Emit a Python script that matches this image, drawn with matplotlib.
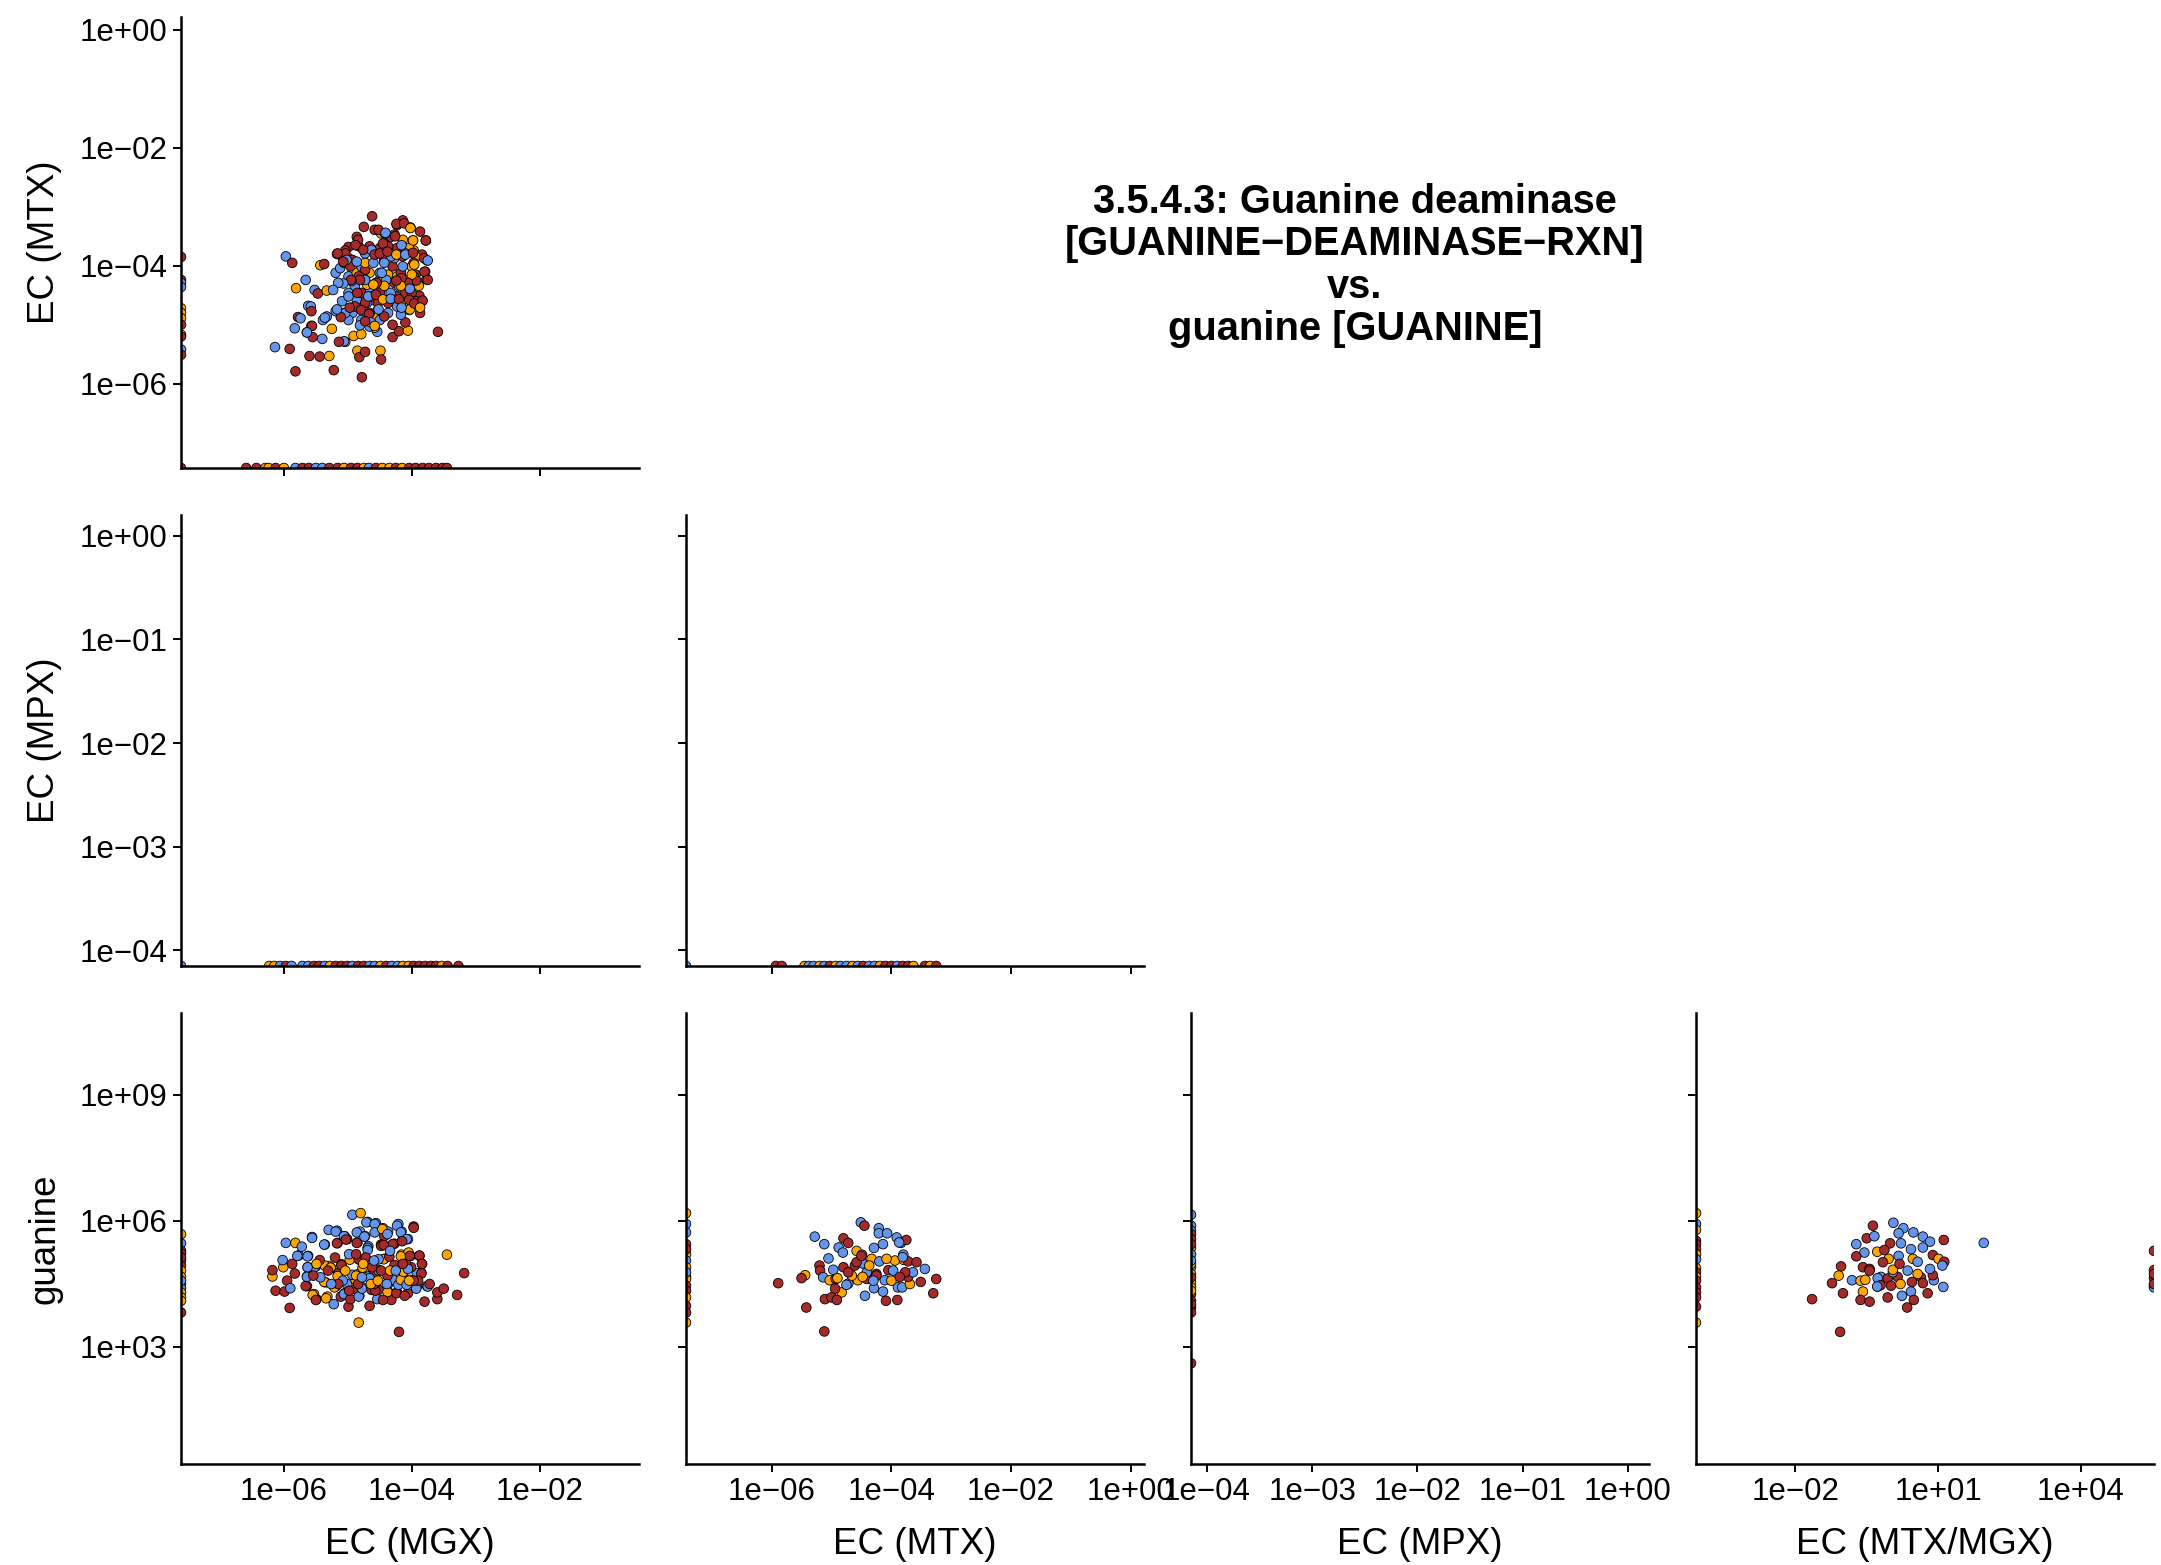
import numpy as np
import matplotlib
matplotlib.use("Agg")
import matplotlib.pyplot as plt
from matplotlib.ticker import FixedLocator, FuncFormatter, NullLocator, NullFormatter

plt.rcParams['font.family'] = ['Liberation Sans', 'DejaVu Sans']

# ---------------------------------------------------------------------------
# DATA  (all values are log10; NEG = log10(0) -> drawn on the panel edge,
#        POS = log10(inf) -> drawn on the right edge, as ggplot does)
# groups: B = blue, O = orange, R = red
# ---------------------------------------------------------------------------
NEG = -np.inf
POS = np.inf
GROUP_COLORS = {'B': '#6495ED', 'O': '#FFA500', 'R': '#A52A2A'}

# ---- EC (MTX) vs EC (MGX) ----
mtx_mgx_grp = ("BRBOORBRBB" "RRRBRRBBBR" "RBBBRBBRRO" "RRROOBROOO" "RRORBORROR"
               "RROBRRORRR" "BRORROORRR" "RRRRROBR"
               + "BRO" * 19 + "BR" * 13 + "RRRRR")
mtx_mgx_x = [-5.97, -5.87, -5.66, -5.81, -5.43, -5.37, -5.52, -5.47, -5.19, -5.09,
             -5.17, -4.99, -5.04, -6.14, -5.91, -5.78, -5.74, -5.83, -5.64, -5.57,
             -5.55, -5.40, -5.62, -5.58, -5.57, -5.39, -5.33, -5.60, -5.44, -5.29,
             -5.82, -5.22, -4.78, -5.25, -5.04, -5.06, -5.14, -4.91, -4.79, -4.85,
             -4.82, -4.73, -4.49, -4.48, -4.54, -4.58, -4.30, -4.20, -4.06, -4.10,
             -3.59, -3.87, -4.04, -4.17, -3.84, -3.88, -3.90, -3.77, -3.79, -3.94,
             -3.76, -3.84, -3.97, -3.87, -3.78, -3.98, -4.02, -4.14, -4.23, -4.33,
             -4.27, -4.62, -4.75, -4.58, -4.86, -4.48, -4.42, -4.43,
             -5.12, -5.06, -4.99, -4.99, -4.93, -4.86, -4.89, -4.83, -4.66,
             -4.79, -4.66, -4.50, -4.73, -4.53, -4.37, -4.66, -4.43, -4.23,
             -4.60, -4.30, -4.10, -4.53, -4.17, -4.00, -4.70, -4.27, -3.94,
             -4.86, -4.43, -4.04, -4.99, -4.56, -4.14, -5.09, -4.73, -4.53,
             -5.19, -4.83, -4.70, -4.93, -4.96, -4.60, -4.79, -4.79, -4.40,
             -4.66, -4.63, -4.27, -4.50, -4.50, -4.17, -4.37, -4.37, -4.73,
             -4.23, -4.23, -4.10,
             -4.33, -4.10, -4.40, -4.00, -4.50, -3.94, -4.60, -4.04, -4.73, -4.14,
             -4.27, -3.97, -4.17, -4.14, -4.14, -4.23, -4.04, -4.37, -4.20, -4.50,
             -3.97, -4.73, -4.43, -4.89, -4.99, -5.06,
             -4.79, -4.66, -4.53, -4.43, -4.30]
mtx_mgx_y = [-3.84, -3.95, -4.24, -4.38, -3.99, -3.97, -4.41, -4.47, -4.12, -3.84,
             -3.80, -3.68, -3.74, -5.38, -5.41, -4.87, -4.89, -5.06, -5.13, -5.02,
             -5.21, -5.24, -4.68, -4.69, -4.77, -4.92, -4.86, -5.53, -5.54, -5.53,
             -5.79, -5.77, -5.89, -5.07, -5.29, -5.28, -5.29, -5.19, -5.16, -5.44,
             -5.55, -5.46, -5.44, -5.59, -5.12, -5.05, -5.21, -5.11, -5.10, -4.96,
             -5.12, -4.80, -4.75, -4.83, -4.60, -4.51, -4.32, -4.23, -4.10, -4.15,
             -3.91, -3.81, -3.74, -3.42, -3.57, -3.57, -3.35, -3.23, -3.31, -3.51,
             -3.47, -3.16, -3.34, -3.39, -3.51, -3.45, -3.45, -3.62,
             -4.04, -3.95, -3.87, -4.18, -3.90, -4.12, -4.35, -3.67, -4.12,
             -4.01, -3.67, -4.24, -4.24, -3.79, -4.15, -4.41, -3.90, -4.18,
             -4.58, -4.01, -4.24, -4.75, -4.12, -4.01, -4.63, -4.29, -3.84,
             -4.58, -4.35, -3.70, -4.46, -4.29, -3.56, -4.60, -4.07, -4.41,
             -4.77, -4.18, -4.32, -4.80, -4.01, -4.86, -4.92, -4.46, -4.58,
             -5.03, -4.52, -4.60, -4.92, -4.46, -4.63, -4.80, -4.63, -3.95,
             -4.69, -4.52, -3.79,
             -4.46, -4.46, -4.24, -4.46, -4.12, -4.60, -3.95, -4.58, -3.79, -4.32,
             -3.87, -3.95, -3.67, -3.84, -4.01, -3.70, -4.35, -3.67, -4.35, -3.70,
             -4.18, -4.63, -3.95, -4.69, -4.92, -4.80,
             -4.75, -4.80, -4.63, -4.86, -5.00]
# dense core of the same panel
mtx_mgx_core_grp = ("RRROBRORBR" "RRBRRRBRBR" "RBROBRORBR" "RORORRBORO"
                    "BROBRBRBBO" "BBRBROBROB" "RROBRBOBRB" "RRBBRB")
mtx_mgx_core_x = [-4.52, -4.24, -4.12, -4.02, -4.41, -4.26, -3.98, -3.78, -4.16, -4.45,
                  -4.84, -4.88, -4.63, -4.76, -5.04, -5.16, -5.02, -5.07, -4.86, -4.58,
                  -4.50, -4.32, -4.38, -4.24, -4.10, -3.98, -3.96, -3.81, -3.75, -3.80,
                  -3.75, -3.89, -3.93, -4.00, -4.06, -4.16, -4.03, -4.17, -4.24, -4.43,
                  -4.47, -4.55, -4.60, -4.73, -4.81, -4.94, -4.95, -5.07, -5.15, -5.33,
                  -5.23, -4.99, -4.85, -4.68, -4.56, -4.45, -4.33, -4.20, -4.03, -4.16,
                  -3.96, -3.83, -3.87, -4.52, -4.67, -4.64, -4.58, -4.81, -4.73, -5.04,
                  -5.11, -4.97, -5.17, -5.36, -5.56, -5.64]
mtx_mgx_core_y = [-3.39, -3.29, -3.28, -3.36, -3.44, -3.50, -3.57, -3.57, -3.65, -3.62,
                  -3.56, -3.65, -3.73, -3.73, -3.79, -3.79, -3.90, -3.93, -3.93, -3.81,
                  -3.79, -3.84, -3.76, -3.81, -3.81, -3.78, -3.98, -3.87, -3.91, -4.10,
                  -4.24, -4.34, -4.25, -4.15, -4.29, -4.21, -4.39, -4.34, -4.25, -4.34,
                  -4.12, -4.29, -4.32, -4.24, -4.24, -4.26, -4.24, -4.30, -4.29, -4.42,
                  -4.41, -4.52, -4.46, -4.52, -4.49, -4.57, -4.56, -4.57, -4.74, -4.71,
                  -4.64, -4.59, -4.71, -4.74, -4.82, -4.96, -5.02, -5.01, -4.94, -4.80,
                  -4.87, -4.71, -4.74, -4.88, -5.02, -5.13]
# samples with MGX = 0 (left edge) and MTX = 0 (bottom edge)
mtx_mgx_left_grp = "RRBBOOORORBRR"
mtx_mgx_left_y = [-3.85, -4.24, -4.29, -4.36, -4.72, -4.80, -4.89, -5.00, -5.17, -5.20,
                  -5.42, -5.51, NEG]
mtx_mgx_bottom_grp = "RROOROBRRB" "BRRORROBRO" "ORORRRRRRR"
mtx_mgx_bottom_x = [-6.59, -6.43, -6.29, -6.24, -6.13, -6.00, -5.82, -5.71, -5.61, -5.50,
                    -5.40, -5.29, -5.16, -5.06, -4.95, -4.85, -4.75, -4.67, -4.56, -4.46,
                    -4.35, -4.25, -4.15, -4.04, -3.94, -3.83, -3.73, -3.62, -3.52, -3.45]

# ---- EC (MPX) vs EC (MGX): MPX is zero everywhere ----
mpx_mgx_grp = "OOBRBBBRRB" "ORRRBRRBBO" "RBBOORRRRR" "ORR" "B"
mpx_mgx_x = [-6.23, -6.15, -6.06, -5.97, -5.88, -5.71, -5.62, -5.53, -5.45, -5.36,
             -5.28, -5.19, -5.10, -5.01, -4.93, -4.84, -4.75, -4.66, -4.58, -4.49,
             -4.40, -4.31, -4.22, -4.14, -4.05, -3.97, -3.88, -3.79, -3.70, -3.62,
             -3.53, -3.44, -3.27, NEG]

# ---- EC (MPX) vs EC (MTX): MPX is zero everywhere ----
mpx_mtx_grp = "RROBBOBROB" "BOBRBBORRB" "RROROR" "B"
mpx_mtx_x = [-5.93, -5.83, -5.45, -5.38, -5.30, -5.20, -5.12, -5.03, -4.93, -4.85,
             -4.75, -4.65, -4.56, -4.47, -4.37, -4.28, -4.19, -4.10, -4.00, -3.90,
             -3.81, -3.72, -3.63, -3.44, -3.35, -3.25, NEG]

# ---- guanine vs EC (MGX) ----
gua_mgx_grp = ("BOBOBBOROB" "RRRRBRRBBO" "ROBRORRRRR" "RRRORBRBRR" "RRBBBOROBB"
               "BOBBBBBBRR" "RRRBBOOORB" "BBRORROBOO" "BORBRBBRBR" "ORRBOORBRR"
               "ORBRBRBRRB" "ROBORBRORB" "ROBROBRBOB" "RBROR"
               "OBRROROOBBOOORRB")
gua_mgx_x = [-4.93, -4.80, -5.97, -5.82, -5.56, -5.72, -6.18, -6.18, -6.01, -6.02,
             -6.13, -5.99, -5.91, -5.95, -5.90, -5.83, -5.87, -5.79, -5.63, -5.55,
             -5.50, -5.34, -5.22, -4.99, -4.83, -4.20, -4.66, -3.80, -3.60, -3.60,
             -3.50, -3.29, -3.18, -3.45, -3.97, -3.75, -3.72, -3.93, -3.88, -3.84,
             -3.85, -3.90, -4.23, -4.17, -4.08, -4.05, -4.15, -4.17, -4.71, -4.58,
             -4.58, -4.46, -4.38, -5.30, -5.19, -5.06, -4.86, -4.74, -5.17, -5.03,
             -4.86, -4.48, -4.30, -5.37, -4.69, -4.97, -5.36, -5.27, -5.44, -5.52,
             -5.63, -5.64, -5.66, -5.37, -5.10, -4.83, -4.77, -4.93, -4.87, -5.16,
             -5.08, -5.21, -5.15, -5.06, -4.96, -4.83, -4.78, -4.57, -4.66, -4.59,
             -4.38, -4.45, -4.24, -4.21, -4.17, -4.13, -4.06, -4.08, -4.38, -4.27,
             -4.44, -4.44, -4.52, -4.62, -4.69, -4.72, -4.52, -4.35, -4.03, -4.06,
             -4.84, -4.64, -4.78, -5.04, -5.31, -5.43, -5.54, -5.49, -5.20, -4.98,
             -4.87, -4.76, -4.59, -4.48, -4.34, -4.25, -4.14, -4.34, -4.53, -4.39,
             -4.98, -5.26, -3.97, -4.04, -4.11,
             NEG, NEG, NEG, NEG, NEG, NEG, NEG, NEG, NEG, NEG,
             NEG, NEG, NEG, NEG, NEG, NEG]
gua_mgx_y = [6.14, 6.18, 5.47, 5.47, 5.59, 5.38, 4.67, 4.82, 4.89, 5.06,
             4.33, 4.31, 3.92, 4.57, 4.39, 4.74, 4.97, 5.16, 5.15, 4.23,
             4.11, 4.15, 4.01, 3.95, 3.57, 3.35, 3.97, 4.07, 4.13, 4.29,
             4.38, 4.23, 4.75, 5.19, 5.83, 4.43, 4.49, 4.38, 5.17, 4.97,
             4.74, 4.57, 5.88, 5.72, 5.56, 5.24, 5.51, 5.15, 5.96, 5.92,
             5.72, 5.80, 5.68, 5.78, 5.74, 5.63, 5.72, 5.62, 5.46, 5.55,
             5.47, 5.40, 5.44, 5.43, 5.35, 5.07, 4.93, 4.88, 5.06, 4.89,
             4.89, 4.66, 4.44, 4.54, 4.94, 5.08, 4.88, 4.71, 4.69, 4.68,
             4.57, 4.41, 4.49, 4.25, 4.13, 4.19, 4.38, 4.33, 4.63, 4.49,
             4.30, 4.11, 4.27, 4.47, 4.59, 4.78, 4.27, 4.47, 4.69, 4.94,
             5.08, 5.42, 4.81, 4.89, 5.30, 5.12, 5.08, 5.14, 5.16, 4.85,
             4.49, 4.49, 4.65, 4.81, 4.81, 4.65, 4.69, 4.97, 5.12, 5.20,
             5.20, 4.97, 5.05, 4.81, 4.81, 4.81, 4.97, 5.28, 4.57, 4.49,
             4.33, 4.49, 4.57, 4.57, 4.21,
             5.68, 5.46, 5.28, 5.22, 5.05, 4.93, 4.81, 4.66, 4.49, 4.39,
             4.29, 4.17, 4.09, 3.81, 5.12, 4.57]
# dense core of the same panel
gua_mgx_core_grp = ("BBRRBBBOBR" "RBBRBBRRBB" "RBORRRRBBR" "RRORBBROOR"
                    "RBBOBBOOBR" "BRBOROOBRR" "OBOOROBRRR" "OBRBORBRBB")
gua_mgx_core_x = [-5.17, -5.05, -5.01, -4.85, -4.81, -4.69, -4.56, -4.45, -4.37, -4.43,
                  -4.48, -4.68, -4.73, -5.16, -5.36, -5.56, -4.27, -4.15, -4.06, -4.16,
                  -3.97, -4.21, -4.16, -4.02, -3.88, -3.84, -3.85, -3.76, -3.92, -4.03,
                  -4.23, -4.32, -4.37, -4.52, -4.54, -4.82, -5.11, -5.32, -5.53, -5.49,
                  -5.64, -5.77, -5.62, -5.47, -5.63, -5.64, -5.35, -5.19, -5.05, -4.88,
                  -4.77, -4.56, -4.52, -4.43, -4.37, -4.11, -4.03, -3.92, -4.01, -4.09,
                  -4.15, -4.23, -4.76, -4.85, -4.75, -4.71, -4.96, -4.82, -5.10, -5.26,
                  -5.30, -5.50, -5.15, -5.01, -4.88, -4.63, -4.68, -4.58, -4.37, -4.29]
gua_mgx_core_y = [5.76, 5.63, 5.56, 5.48, 5.74, 5.97, 5.94, 5.82, 5.74, 5.63,
                  5.43, 5.39, 5.63, 5.47, 5.43, 5.61, 5.45, 5.52, 5.56, 5.74,
                  5.86, 5.92, 5.19, 5.16, 5.16, 4.97, 4.76, 4.44, 4.43, 4.55,
                  4.29, 4.11, 4.31, 4.35, 4.13, 4.21, 4.19, 4.19, 4.25, 4.13,
                  4.44, 5.17, 5.16, 4.97, 4.89, 4.67, 4.53, 4.43, 4.27, 4.37,
                  4.41, 4.51, 4.83, 5.09, 4.67, 4.60, 4.59, 4.75, 4.89, 4.97,
                  4.81, 4.92, 4.69, 4.72, 4.95, 4.88, 5.09, 5.07, 4.96, 4.87,
                  4.92, 4.91, 4.75, 4.49, 4.59, 4.35, 4.67, 4.76, 4.49, 4.59]

# ---- guanine vs EC (MTX) ----
gua_mtx_grp = ("BRBBBBBRBB" "BRRBBOBBBB" "ORORBRRBRR" "BORRBORORR" "BOBROBORRR"
               "RRRBBBRRBB" "ORRBRBRBRO" "BROORBBORB" "ROR"
               "OBBROBOOORRORRORB")
gua_mtx_x = [-4.51, -4.45, -4.21, -4.21, -4.07, -3.91, -3.84, -3.75, -3.87, -5.28,
             -5.12, -4.80, -4.72, -4.88, -4.81, -4.58, -4.49, -4.29, -4.14, -3.80,
             -3.80, -3.72, -3.94, -3.58, -3.44, -3.25, -3.30, -5.05, -5.20, -5.19,
             -4.97, -5.44, -5.50, -5.89, -5.14, -5.03, -4.93, -4.90, -4.80, -4.61,
             -4.48, -4.33, -4.20, -4.25, -4.56, -4.72, -4.83, -4.94, -5.11, -5.00,
             -4.91, -5.42, -5.12, -4.44, -4.29, -4.14, -4.09, -3.90, -3.89, -3.82,
             -3.69, -3.51, -3.72, -3.64, -3.77, -4.11, -4.41, -4.41, -4.05, -4.08,
             -3.81, -4.58, -4.66, -4.37, -4.25, -4.30, -3.97, -4.00, -3.86, -4.75,
             -4.72, -4.48, -4.50,
             NEG, NEG, NEG, NEG, NEG, NEG, NEG, NEG, NEG, NEG,
             NEG, NEG, NEG, NEG, NEG, NEG, NEG]
gua_mtx_y = [5.96, 5.88, 5.82, 5.70, 5.70, 5.60, 5.47, 5.54, 5.48, 5.62,
             5.44, 5.58, 5.47, 5.36, 5.24, 5.28, 5.19, 5.35, 5.44, 5.19,
             5.07, 5.03, 5.05, 5.01, 4.85, 4.61, 4.27, 5.10, 4.93, 4.81,
             4.83, 4.70, 4.63, 4.51, 4.65, 4.58, 4.61, 4.63, 4.89, 4.93,
             4.98, 5.09, 5.03, 4.73, 4.58, 4.50, 4.29, 4.38, 4.13, 4.17,
             4.11, 3.93, 3.36, 4.21, 4.39, 4.31, 4.09, 4.11, 4.41, 4.41,
             4.49, 4.54, 4.66, 4.77, 4.77, 4.58, 4.61, 4.77, 4.82, 5.09,
             5.13, 5.01, 4.69, 4.93, 4.69, 4.57, 4.81, 4.57, 4.66, 4.47,
             4.77, 4.66, 5.16,
             6.18, 5.92, 5.72, 5.44, 5.20, 5.05, 4.89, 4.66, 4.61, 4.45,
             4.33, 4.17, 3.97, 3.81, 3.57, 5.32, 4.77]

# ---- guanine vs EC (MPX): MPX is zero everywhere ----
gua_mpx_grp = "BBBRROBBOOOORRRRRRBROR"
gua_mpx_y = [6.14, 5.88, 5.76, 5.68, 5.56, 5.36, 5.20, 4.89, 4.97, 4.73,
             4.53, 4.41, 4.25, 4.09, 3.93, 3.81, 2.60, 5.44, 5.05, 4.65,
             4.33, 4.01]

# ---- guanine vs EC (MTX/MGX) ----
gua_ratio_grp = ("BRBBBBBBRB" "BRBRBBORBR" "BOORORBROR" "RRRBOORROR" "RBBRRRROBB"
                 "RRRBBRRROB" "BRBORRBBRB" "R"
                 "RRROBRR" "OBORRROBORORRRRRO")
gua_ratio_x = [0.06, -0.37, 0.27, 0.17, 0.48, 0.68, 0.83, 0.68, 1.12, 1.96,
               -0.72, -0.50, -0.34, -0.01, 0.22, 0.43, -0.28, -0.13, -0.55, -0.72,
               0.17, -0.04, 0.47, 0.89, 1.01, 1.13, 1.09, -1.04, -1.09, -1.23,
               -1.00, -1.65, -1.06, -0.81, -0.63, -0.53, -0.58, -0.44, -0.58, -0.63,
               -0.44, -0.27, -0.20, -0.06, 0.01, -0.06, 0.15, 0.21, 0.24, 0.43,
               0.49, 0.35, 0.78, 1.11, 0.91, 0.89, 0.64, 0.68, 0.57, 0.83,
               0.36, 0.45, 0.05, 0.05, -0.16, 0.19, 0.57, -0.27, -0.21, -0.28,
               -0.44,
               POS, POS, POS, POS, POS, POS, POS,
               NEG, NEG, NEG, NEG, NEG, NEG, NEG, NEG, NEG, NEG,
               NEG, NEG, NEG, NEG, NEG, NEG, NEG]
gua_ratio_y = [5.95, 5.88, 5.82, 5.70, 5.72, 5.62, 5.50, 5.36, 5.54, 5.47,
               5.44, 5.58, 5.63, 5.46, 5.46, 5.32, 5.26, 5.30, 5.24, 5.15,
               5.16, 5.09, 5.09, 5.18, 5.09, 5.02, 4.93, 4.91, 4.69, 4.51,
               4.27, 4.13, 3.35, 4.58, 4.57, 4.59, 4.89, 4.85, 4.31, 4.11,
               4.07, 4.43, 4.66, 4.62, 4.45, 4.17, 4.66, 4.49, 4.21, 4.31,
               4.11, 3.93, 4.27, 4.42, 4.58, 4.70, 4.65, 4.51, 4.73, 4.85,
               4.81, 4.54, 4.77, 4.83, 5.01, 4.97, 5.02, 4.63, 4.46, 4.43,
               4.81,
               5.28, 4.82, 4.63, 4.45, 4.41, 4.49, 4.73,
               6.18, 5.92, 5.78, 5.52, 5.44, 5.32, 5.20, 5.08, 4.87, 4.77,
               4.66, 4.57, 4.41, 4.29, 4.17, 3.95, 3.57]

# axis ranges (log10) and tick exponents
LIM_MGX = (-7.61, -0.445)
LIM_MTX = (-7.43, 0.22)
LIM_MPX = (-4.15, 0.20)
LIM_RATIO = (-4.09, 5.54)
LIM_GUA = (0.20, 10.95)
TICKS_MGX = [-6, -4, -2]
TICKS_MTX = [-6, -4, -2, 0]
TICKS_MPX = [-4, -3, -2, -1, 0]
TICKS_RATIO = [-2, 1, 4]
TICKS_GUA = [3, 6, 9]

TITLE = ("3.5.4.3: Guanine deaminase\n[GUANINE\u2212DEAMINASE\u2212RXN]\n"
         "vs.\nguanine [GUANINE]")

# ---------------------------------------------------------------------------
W, H = 2161, 1565
fig = plt.figure(figsize=(W / 100, H / 100), dpi=100)
fig.patch.set_facecolor('white')

COL_LEFT = [181, 686, 1191, 1696]
ROW_BOTTOM = [468, 966, 1464]
PW, PH = 458, 451


def add_panel(row, col):
    l = COL_LEFT[col]
    b = ROW_BOTTOM[row]
    return fig.add_axes([l / W, 1 - b / H, PW / W, PH / H])


def sci(v, pos):
    e = int(round(np.log10(v)))
    s = '+' if e >= 0 else '\u2212'
    return f"1e{s}{abs(e):02d}"


def to_values(logs, lim):
    v = np.power(10.0, np.asarray(logs, dtype=float))
    v = np.where(v == 0, 10.0 ** lim[0], v)
    v = np.where(np.isinf(v), 10.0 ** lim[1], v)
    return v


def panel(row, col, xlog, ylog, grp, xlim, ylim, xticks, yticks, xlab, ylab):
    ax = add_panel(row, col)
    ax.set_xscale('log')
    ax.set_yscale('log')
    x = to_values(xlog, xlim)
    y = to_values(ylog, ylim)
    ax.scatter(x, y, s=48, c=[GROUP_COLORS[g] for g in grp],
               edgecolors='black', linewidths=0.6, zorder=2)
    ax.set_xlim(10.0 ** xlim[0], 10.0 ** xlim[1])
    ax.set_ylim(10.0 ** ylim[0], 10.0 ** ylim[1])
    ax.xaxis.set_major_locator(FixedLocator([10.0 ** t for t in xticks]))
    ax.yaxis.set_major_locator(FixedLocator([10.0 ** t for t in yticks]))
    ax.xaxis.set_minor_locator(NullLocator())
    ax.yaxis.set_minor_locator(NullLocator())
    ax.xaxis.set_major_formatter(FuncFormatter(sci) if xlab else NullFormatter())
    ax.yaxis.set_major_formatter(FuncFormatter(sci) if ylab else NullFormatter())
    for s in ['top', 'right']:
        ax.spines[s].set_visible(False)
    for s in ['left', 'bottom']:
        ax.spines[s].set_linewidth(1.8)
        ax.spines[s].set_zorder(3)
    ax.tick_params(axis='both', which='major', length=5.5, width=1.4,
                   color='black', labelsize=22.5, labelcolor='black', pad=4)
    ax.set_facecolor('white')
    return ax


# row 1
n_left = len(mtx_mgx_left_y)
n_bot = len(mtx_mgx_bottom_x)
panel(0, 0,
      [NEG] * n_left + mtx_mgx_bottom_x + mtx_mgx_x + mtx_mgx_core_x,
      mtx_mgx_left_y + [NEG] * n_bot + mtx_mgx_y + mtx_mgx_core_y,
      mtx_mgx_left_grp + mtx_mgx_bottom_grp + mtx_mgx_grp + mtx_mgx_core_grp,
      LIM_MGX, LIM_MTX, TICKS_MGX, TICKS_MTX, False, True)
# row 2
panel(1, 0, mpx_mgx_x, [NEG] * len(mpx_mgx_x), mpx_mgx_grp,
      LIM_MGX, LIM_MPX, TICKS_MGX, TICKS_MPX, False, True)
panel(1, 1, mpx_mtx_x, [NEG] * len(mpx_mtx_x), mpx_mtx_grp,
      LIM_MTX, LIM_MPX, TICKS_MTX, TICKS_MPX, False, False)
# row 3
panel(2, 0, gua_mgx_core_x + gua_mgx_x, gua_mgx_core_y + gua_mgx_y,
      gua_mgx_core_grp + gua_mgx_grp,
      LIM_MGX, LIM_GUA, TICKS_MGX, TICKS_GUA, True, True)
panel(2, 1, gua_mtx_x, gua_mtx_y, gua_mtx_grp,
      LIM_MTX, LIM_GUA, TICKS_MTX, TICKS_GUA, True, False)
panel(2, 2, [NEG] * len(gua_mpx_y), gua_mpx_y, gua_mpx_grp,
      LIM_MPX, LIM_GUA, TICKS_MPX, TICKS_GUA, True, False)
panel(2, 3, gua_ratio_x, gua_ratio_y, gua_ratio_grp,
      LIM_RATIO, LIM_GUA, TICKS_RATIO, TICKS_GUA, True, False)

# axis titles
YLABELS = ["EC (MTX)", "EC (MPX)", "guanine"]
XLABELS = ["EC (MGX)", "EC (MTX)", "EC (MPX)", "EC (MTX/MGX)"]
for r, lab in enumerate(YLABELS):
    cy = ROW_BOTTOM[r] - PH / 2
    fig.text(45 / W, 1 - cy / H, lab, rotation=90, ha='center', va='center',
             fontsize=26.5)
for c, lab in enumerate(XLABELS):
    cx = COL_LEFT[c] + PW / 2
    fig.text(cx / W, 1 - 1545 / H, lab, ha='center', va='center', fontsize=26.5)

fig.text(1355 / W, 1 - 265.5 / H, TITLE, ha='center', va='center',
         fontsize=28.7, fontweight='bold', linespacing=1.15)

fig.savefig("out.png", dpi=100, facecolor='white')
